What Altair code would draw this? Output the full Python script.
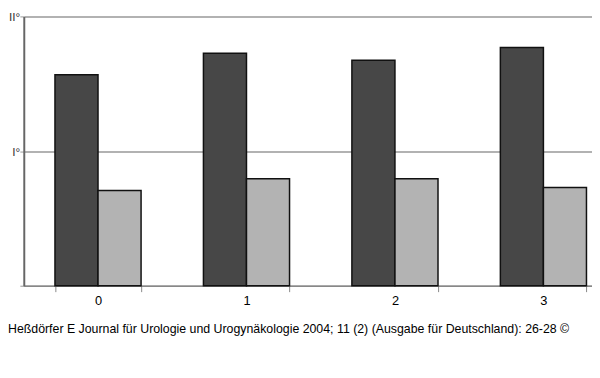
import altair as alt
import pandas as pd

categories = ["0", "1", "2", "3"]
series = ["A", "B"]
values_a = [1.567, 1.726, 1.675, 1.769]
values_b = [0.708, 0.794, 0.794, 0.729]
y_ticks = [0, 1, 2]
y_labels = ["", "I°", "II°"]
bar_colors = ["#474747", "#b3b3b3"]
caption = "Heßdörfer E Journal für Urologie und Urogynäkologie 2004; 11 (2) (Ausgabe für Deutschland): 26-28 ©"

rows = []
for c, a, b in zip(categories, values_a, values_b):
    rows.append({"cat": c, "series": series[0], "value": a})
    rows.append({"cat": c, "series": series[1], "value": b})
df = pd.DataFrame(rows)

label_expr = " : ".join(
    [f"datum.value == {v} ? '{l}'" for v, l in zip(y_ticks, y_labels)] + ["''"]
)

FONT = "Liberation Sans"
PAD_LEFT = 16
PAD_TOP = 6

chart = alt.Chart(df).mark_bar(stroke="#111111", strokeWidth=1.5).encode(
    x=alt.X(
        "cat:N",
        sort=categories,
        scale=alt.Scale(range=[0, 602], paddingInner=0.42, paddingOuter=0.21),
        axis=alt.Axis(
            title=None, labelAngle=0, tickBand="extent", domainColor="#888888",
            domainWidth=1.5, tickColor="#888888", tickSize=6, labelPadding=3,
            labelFontSize=13, labelFont=FONT, labelColor="#000000", grid=False,
        ),
    ),
    xOffset=alt.XOffset("series:N", sort=series),
    y=alt.Y(
        "value:Q",
        scale=alt.Scale(domain=[0, 2], nice=False),
        axis=alt.Axis(
            title=None, values=y_ticks, labelExpr=label_expr, tickSize=4,
            tickColor="#999999", labelPadding=0, labelFontSize=12, labelFont=FONT,
            labelColor="#333333", gridColor="#999999", gridWidth=1.5,
            domainColor="#666666", domainWidth=2,
        ),
    ),
    color=alt.Color(
        "series:N", scale=alt.Scale(domain=series, range=bar_colors), legend=None
    ),
).properties(
    width=600 - 8 - PAD_LEFT,
    height=287 - 8 - PAD_TOP,
    autosize=alt.AutoSizeParams(type="none"),
    padding={"left": PAD_LEFT, "top": PAD_TOP, "right": 0, "bottom": 90},
    title=alt.TitleParams(
        caption, orient="bottom", anchor="start", frame="group", dx=-PAD_LEFT,
        offset=16, font=FONT, fontSize=12.5, fontWeight="normal", color="#000000",
    ),
).configure_view(stroke=None)

chart.save("out.html", embed_options={"renderer": "svg", "actions": False})
